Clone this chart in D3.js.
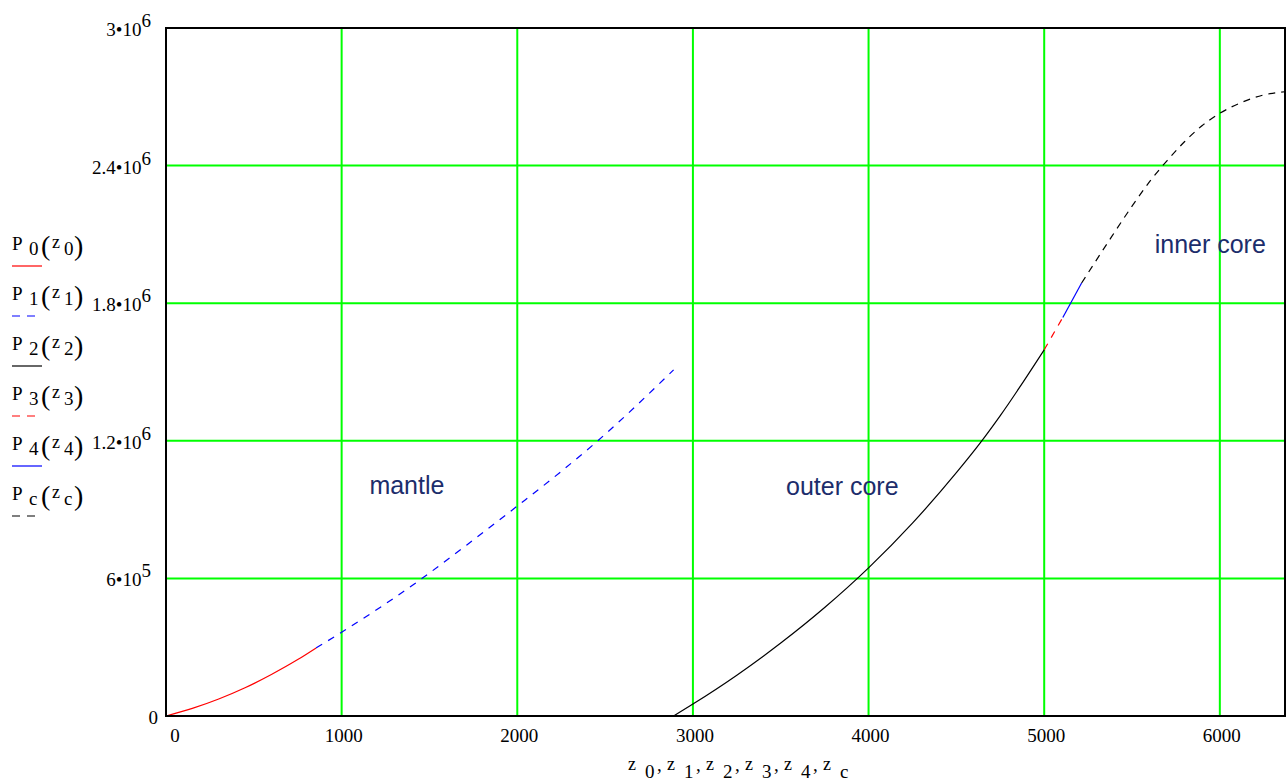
<!DOCTYPE html>
<html lang="en">
<head>
<meta charset="UTF-8">
<title>pressure profile</title>
<script src="https://d3js.org/d3.v7.min.js"></script>
<style>
    body{ margin:0; background:#fff; }
    .lbl{ font-family:"Liberation Serif","Times New Roman",serif; font-size:19px; fill:#000; }
    .zone{ font-family:"Liberation Sans",Arial,sans-serif; font-size:25px; fill:#1c2d6b; }
</style>
</head>
<body>
<svg id="chart" width="1288" height="784"></svg>
<script>
// depth z (km) and pressure P for each piece of the profile
let z0 = [0, 150, 300, 450, 600, 750, 855]
let p0 = [0, 33000, 74000, 123000, 181000, 246000, 297000]
let z1 = [855, 989, 1445, 1711, 1996, 2243, 2452, 2890]
let p1 = [297000, 360000, 593000, 745000, 913000, 1062000, 1196000, 1509000]
let z2 = [2890, 3000, 3250, 3500, 3750, 4000, 4250, 4500, 4637, 4750, 5000]
let p2 = [0, 52000, 178000, 318000, 473000, 646000, 841000, 1061000, 1192000, 1310000, 1597000]
let z3 = [5000, 5106]
let p3 = [1597000, 1738000]
let z4 = [5106, 5213]
let p4 = [1738000, 1888000]
let zc = [5213, 5384, 5508, 5600, 5700, 5800, 5900, 6000, 6125, 6250, 6371]
let pc = [1888000, 2090000, 2232000, 2330000, 2422000, 2505000, 2575000, 2628000, 2676000, 2708000, 2722000]

let subs = ["0", "1", "2", "3", "4", "c"]
let xTicks = [0, 1000, 2000, 3000, 4000, 5000, 6000]
let yTicks = [0, 600000, 1200000, 1800000, 2400000, 3000000]
let yMant = ["0", "6", "1.2", "1.8", "2.4", "3"]
let yExp = ["", "5", "6", "6", "6", "6"]

let series = [
    {sub: "0", z: z0, p: p0, color: "#ff0000", dash: null},
    {sub: "1", z: z1, p: p1, color: "#0000ff", dash: "7,7"},
    {sub: "2", z: z2, p: p2, color: "#000000", dash: null},
    {sub: "3", z: z3, p: p3, color: "#ff0000", dash: "7,7"},
    {sub: "4", z: z4, p: p4, color: "#0000ff", dash: null},
    {sub: "c", z: zc, p: pc, color: "#000000", dash: "7,6"}
]

let svg = d3.select("#chart")
let pl = 166, pr = 1285, pt = 28, pb = 716

let x = d3.scaleLinear().domain([0, 6371]).range([pl, pr])
let y = d3.scaleLinear().domain([0, 3000000]).range([pb, pt])

// grid
svg.append("g").selectAll("line")
    .data(xTicks.filter(d => d > 0))
    .join("line")
    .attr("x1", d => x(d)).attr("x2", d => x(d))
    .attr("y1", pt).attr("y2", pb)
    .attr("stroke", "#00ff00").attr("stroke-width", 2)
svg.append("g").selectAll("line")
    .data(yTicks.filter(d => d > 0 && d < 3000000))
    .join("line")
    .attr("y1", d => y(d)).attr("y2", d => y(d))
    .attr("x1", pl).attr("x2", pr)
    .attr("stroke", "#00ff00").attr("stroke-width", 2)

// curves
let line = d3.line()
    .x(d => x(d[0]))
    .y(d => y(d[1]))
    .curve(d3.curveMonotoneX)

svg.append("g").selectAll("path")
    .data(series)
    .join("path")
    .attr("d", s => line(d3.zip(s.z, s.p)))
    .attr("fill", "none")
    .attr("stroke", s => s.color)
    .attr("stroke-width", 1.2)
    .attr("stroke-dasharray", s => s.dash)

// frame
svg.append("rect")
    .attr("x", pl).attr("y", pt)
    .attr("width", pr - pl).attr("height", pb - pt)
    .attr("fill", "none").attr("stroke", "#000").attr("stroke-width", 2)

// x tick labels
svg.append("g").selectAll("text")
    .data(xTicks)
    .join("text")
    .attr("class", "lbl")
    .attr("x", d => d === 0 ? x(d) + 9 : x(d) + 2)
    .attr("y", 742)
    .attr("text-anchor", "middle")
    .text(d => d)

// y tick labels, mantissa•10 with exponent
let yl = svg.append("g").selectAll("text")
    .data(yTicks)
    .join("text")
    .attr("class", "lbl")
    .attr("x", (d, i) => i === 0 ? 158 : 151)
    .attr("y", d => y(d) + 8)
    .attr("text-anchor", "end")
yl.append("tspan")
    .text((d, i) => i === 0 ? "0" : yMant[i] + "\u202210")
yl.append("tspan")
    .attr("dy", -9)
    .text((d, i) => yExp[i])

// x axis title  z 0,z 1,...
let xt = svg.append("text").attr("class", "lbl")
subs.forEach(function (s, i) {
    let gx = 628 + i * 39
    xt.append("tspan").attr("x", gx).attr("y", 770).attr("font-size", 18).text("z")
    xt.append("tspan").attr("x", gx + 17).attr("y", 778).text(s)
    if (i < subs.length - 1) xt.append("tspan").attr("x", gx + 29).attr("y", 771).text(",")
})

// legend
let leg = svg.append("g").selectAll("g")
    .data(series)
    .join("g")
    .attr("transform", (s, i) => "translate(12," + (250 + i * 50) + ")")
leg.append("line")
    .attr("x1", 0).attr("x2", 30)
    .attr("y1", 16).attr("y2", 16)
    .attr("stroke", s => s.color)
    .attr("stroke-width", 1.2)
    .attr("stroke-dasharray", s => s.dash ? "8,7" : null)
let lt = leg.append("text").attr("class", "lbl")
lt.append("tspan").attr("x", 0).attr("y", 0).text("P")
lt.append("tspan").attr("x", 17).attr("y", 5).text(s => s.sub)
lt.append("tspan").attr("x", 29).attr("y", 5).attr("font-size", 28).text("(")
lt.append("tspan").attr("x", 40).attr("y", -2).attr("font-size", 18).text("z")
lt.append("tspan").attr("x", 52).attr("y", 5).text(s => s.sub)
lt.append("tspan").attr("x", 62).attr("y", 5).attr("font-size", 28).text(")")

// region names
svg.append("text").attr("class", "zone").attr("x", x(1158)).attr("y", y(968000)).text("mantle")
svg.append("text").attr("class", "zone").attr("x", x(3530)).attr("y", y(964000)).text("outer core")
svg.append("text").attr("class", "zone").attr("x", x(5629)).attr("y", y(2019000)).text("inner core")
</script>
</body>
</html>
